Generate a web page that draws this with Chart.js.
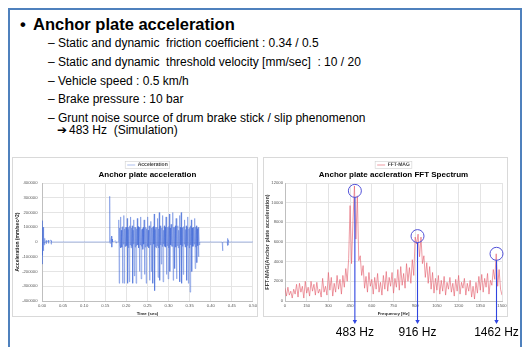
<!DOCTYPE html>
<html lang="en">
<head>
<meta charset="utf-8">
<title>Anchor plate acceleration</title>
<script src="https://cdn.jsdelivr.net/npm/chart.js@4.4.1/dist/chart.umd.min.js"></script>
<style>
    html, body { margin: 0; padding: 0; background: #fff; }
    body { position: relative; width: 526px; height: 347px; overflow: hidden;
           font-family: Arial, "Liberation Sans", sans-serif; color: #000; }
    .frame { position: absolute; left: 8px; top: 8px; width: 514px; height: 360px;
             border: 2px solid #4f81bd; border-bottom: none; box-sizing: border-box; }
    .bullet, .head { position: absolute; top: 14px; line-height: 20px; font-size: 16.5px;
                     font-weight: bold; white-space: nowrap; }
    .bullet { left: 20px; }
    .head { left: 33px; }
    .dash, .item { position: absolute; line-height: 16px; font-size: 12px; white-space: nowrap; }
    .dash { left: 48px; }
    .item { left: 58px; }
    .arrow { position: absolute; left: 57px; line-height: 16px; font-size: 12px;
             font-family: "DejaVu Sans", sans-serif; }
    .panel { position: absolute; border: 1px solid #d9d9d9; box-sizing: border-box; }
    canvas { position: absolute; }
</style>
</head>
<body>
<div class="frame"></div>

<div class="bullet">•</div>
<div class="head">Anchor plate acceleration</div>
<div class="dash" style="top:35px">–</div>
<div class="item" style="top:35px">Static and dynamic&nbsp; friction coefficient : 0.34 / 0.5</div>
<div class="dash" style="top:54px">–</div>
<div class="item" style="top:54px">Static and dynamic&nbsp; threshold velocity [mm/sec]&nbsp; : 10 / 20</div>
<div class="dash" style="top:72.5px">–</div>
<div class="item" style="top:72.5px">Vehicle speed : 0.5 km/h</div>
<div class="dash" style="top:91px">–</div>
<div class="item" style="top:91px">Brake pressure : 10 bar</div>
<div class="dash" style="top:109.5px">–</div>
<div class="item" style="top:109.5px">Grunt noise source of drum brake stick / slip phenomenon</div>
<div class="arrow" style="top:122px">➔</div>
<div class="item" style="top:122px;left:69px">483 Hz&nbsp; (Simulation)</div>

<div class="panel" style="left:12px;top:157px;width:246px;height:160px"></div>
<canvas id="accelChart" width="246" height="158" style="left:13px;top:158px"></canvas>
<div class="panel" style="left:263px;top:157px;width:245px;height:160px"></div>
<canvas id="fftChart" width="256" height="189" style="left:264px;top:158px"></canvas>

<script>
// Anchor plate acceleration: time history + FFT spectrum

// time history, sec
const accelTime = [
    0.000, 0.0005, 0.0010, 0.0015, 0.0020, 0.0025, 0.0030, 0.0035, 0.0040, 0.0045,
    0.0050, 0.0060, 0.0070, 0.0080, 0.0100, 0.0105, 0.0110, 0.0120, 0.0150, 0.0155,
    0.0160, 0.0210, 0.0215, 0.0220, 0.0230, 0.1600, 0.1605, 0.1612, 0.1620, 0.1650,
    0.1655, 0.1660, 0.1670, 0.1750, 0.1755, 0.1760, 0.1810,
    0.182, 0.183, 0.184, 0.185, 0.186, 0.187, 0.188, 0.189, 0.190, 0.191,
    0.192, 0.193, 0.194, 0.195, 0.196, 0.197, 0.198, 0.199, 0.200, 0.201,
    0.202, 0.203, 0.204, 0.205, 0.206, 0.207, 0.208, 0.209, 0.210, 0.211,
    0.212, 0.213, 0.214, 0.215, 0.216, 0.217, 0.218, 0.219, 0.220, 0.221,
    0.222, 0.223, 0.224, 0.225, 0.226, 0.227, 0.228, 0.229, 0.230, 0.231,
    0.232, 0.233, 0.234, 0.235, 0.236, 0.237, 0.238, 0.239, 0.240, 0.241,
    0.242, 0.243, 0.244, 0.245, 0.246, 0.247, 0.248, 0.249, 0.250, 0.251,
    0.252, 0.253, 0.254, 0.255, 0.256, 0.257, 0.258, 0.259, 0.260, 0.261,
    0.262, 0.263, 0.264, 0.265, 0.266, 0.267, 0.268, 0.269, 0.270, 0.271,
    0.272, 0.273, 0.274, 0.275, 0.276, 0.277, 0.278, 0.279, 0.280, 0.281,
    0.282, 0.283, 0.284, 0.285, 0.286, 0.287, 0.288, 0.289, 0.290, 0.291,
    0.292, 0.293, 0.294, 0.295, 0.296, 0.297, 0.298, 0.299, 0.300, 0.301,
    0.302, 0.303, 0.304, 0.305, 0.306, 0.307, 0.308, 0.309, 0.310, 0.311,
    0.312, 0.313, 0.314, 0.315, 0.316, 0.317, 0.318, 0.319, 0.320, 0.321,
    0.322, 0.323, 0.324, 0.325, 0.326, 0.327, 0.328, 0.329, 0.330, 0.331,
    0.332, 0.333, 0.334, 0.335, 0.336, 0.337, 0.338, 0.339, 0.340, 0.341,
    0.342, 0.343, 0.344, 0.345, 0.346, 0.347, 0.348, 0.349, 0.350, 0.351,
    0.352, 0.353, 0.354, 0.355, 0.356, 0.357, 0.358, 0.359, 0.360, 0.361,
    0.362, 0.363, 0.364, 0.365, 0.366, 0.367, 0.368, 0.369, 0.370, 0.371,
    0.372, 0.373,
    0.3740, 0.4270, 0.4280, 0.4290, 0.4390, 0.4395, 0.4400, 0.4405, 0.4410, 0.4415,
    0.4420, 0.5000
];

// acceleration, mm/sec^2
const accelValue = [
    0, 120000, -150000, 145000, -90000, 100000, -60000, 70000, -40000, 40000,
    -20000, 25000, -10000, 0, 10000, -12000, 8000, 0, 12000, -10000,
    0, 14000, -15000, 10000, 0, 0, 310000, -10000, 0, 40000,
    -35000, 20000, 0, 8000, -8000, 0, 0,
    150000, -280000, 95000, -20000, 170000, -40000, 80000, -35000,
    100000, -280000, 105000, -15000, 180000, -280000, 90000, -30000,
    100000, -30000, 100000, -25000, 160000, -280000, 85000, -40000,
    100000, -270000, 110000, -20000, 170000, -40000, 95000, -30000,
    110000, -280000, 80000, -15000, 150000, -230000, 100000, -35000,
    100000, -280000, 90000, -25000, 160000, -20000, 105000, -40000,
    100000, -200000, 95000, -20000, 170000, -250000, 85000, -30000,
    90000, -50000, 100000, -15000, 150000, -220000, 110000, -35000,
    100000, -280000, 90000, -25000, 170000, -30000, 80000, -40000,
    110000, -260000, 100000, -20000, 140000, -200000, 95000, -30000,
    100000, -280000, 105000, -15000, 190000, -330000, 85000, -35000,
    100000, -40000, 100000, -25000, 160000, -240000, 90000, -40000,
    200000, -260000, 110000, -20000, 100000, -150000, 95000, -30000,
    180000, -270000, 80000, -15000, 110000, -30000, 100000, -35000,
    170000, -220000, 90000, -25000, 100000, -250000, 105000, -40000,
    190000, -200000, 95000, -20000, 120000, -30000, 85000, -30000,
    200000, -260000, 100000, -15000, 100000, -180000, 110000, -35000,
    160000, -250000, 90000, -25000, 110000, -40000, 80000, -40000,
    180000, -270000, 100000, -20000, 200000, -280000, 95000, -30000,
    100000, -220000, 105000, -15000, 150000, -30000, 85000, -35000,
    110000, -260000, 100000, -25000, 170000, -280000, 90000, -40000,
    100000, -340000, 110000, -20000, 150000, -200000, 95000, -30000,
    100000, -30000, 80000, -15000, 160000, -180000, 100000, -35000,
    110000, -140000, 90000, -25000, 100000, -100000, 70000, -20000,
    0, 0, -60000, 0, 0, 20000, -25000, 25000, -20000, 15000,
    0, 0
];

// spectrum, Hz
const fftFreq = [
    0, 10, 20, 30, 40, 50, 60, 70, 80, 90,
    100, 110, 120, 130, 140, 150, 160, 170, 180, 190,
    200, 210, 220, 230, 240, 250, 260, 270, 280, 290,
    300, 310, 320, 330, 340, 350, 360, 370, 380, 390,
    400, 410, 420, 430, 440, 450, 460, 470, 480, 490,
    500, 510, 520, 530, 540, 550, 560, 570, 580, 590,
    600, 610, 620, 630, 640, 650, 660, 670, 680, 690,
    700, 710, 720, 730, 740, 750, 760, 770, 780, 790,
    800, 810, 820, 830, 840, 850, 860, 870, 880, 890,
    900, 910, 920, 930, 940, 950, 960, 970, 980, 990,
    1000, 1010, 1020, 1030, 1040, 1050, 1060, 1070, 1080, 1090,
    1100, 1110, 1120, 1130, 1140, 1150, 1160, 1170, 1180, 1190,
    1200, 1210, 1220, 1230, 1240, 1250, 1260, 1270, 1280, 1290,
    1300, 1310, 1320, 1330, 1340, 1350, 1360, 1370, 1380, 1390,
    1400, 1410, 1420, 1430, 1440, 1450, 1460, 1470, 1480, 1490,
    1500
];

// FFT magnitude of anchor plate acceleration
const fftMag = [
    1300, 500, 1400, 600, 1000, 300, 1200, 700, 1700, 400,
    1800, 900, 1500, 300, 2000, 800, 1400, 500, 2000, 1000,
    1700, 600, 1900, 800, 1200, 400, 2300, 900, 1500, 600,
    2900, 1100, 2400, 500, 1800, 900, 2600, 1200, 2200, 700,
    2600, 1400, 3300, 2000, 4300, 9700, 3800, 8200, 11700, 6300,
    10700, 4100, 4600, 2600, 3600, 1300, 2500, 900, 2900, 1500,
    2200, 700, 2400, 1200, 2800, 900, 1900, 600, 2600, 1200,
    3000, 1000, 2400, 1500, 2900, 800, 2300, 1400, 3200, 1100,
    3500, 1600, 2800, 1300, 3800, 2000, 3400, 1800, 4200, 2600,
    6500, 5800, 6800, 4500, 6500, 3800, 4600, 2400, 3900, 1800,
    3500, 1200, 2900, 800, 2300, 1100, 2600, 700, 2100, 1000,
    2500, 600, 1900, 1200, 2400, 900, 1800, 500, 2200, 1000,
    2600, 700, 1900, 1300, 2300, 600, 1800, 1000, 2100, 400,
    1500, 200, 1900, 800, 2500, 1100, 2700, 900, 2300, 1400,
    2800, 700, 2100, 1600, 3200, 2200, 4800, 1500, 3200, 1200,
    600
];

// circled peaks
const peakFreq = [483, 916, 1462];
const peakMag = [11200, 6600, 4800];
const peakLabels = ['483 Hz', '916 Hz', '1462 Hz'];

Chart.defaults.font.family = 'Arial, "Liberation Sans", sans-serif';

const TICK_COLOR = '#595959';
const GRID_COLOR = '#e4e4e4';

// legend and title sit over the plot area (not the whole canvas), like the spreadsheet chart
const headerPos = {
    id: 'headerPos',
    afterLayout(chart, args, opts) {
        const area = chart.chartArea;
        [[chart.legend, opts.legendTop], [chart.titleBlock, opts.titleTop]].forEach(([box, top]) => {
            if (!box) return;
            box.left = area.left;
            box.right = area.right;
            box.width = area.right - area.left;
            box.top = top;
            box.bottom = top + box.height;
        });
    },
    afterDraw(chart, args, opts) {
        // thin frame round the legend entry
        const ctx = chart.ctx;
        const area = chart.chartArea;
        ctx.save();
        ctx.font = `bold ${opts.fontSize}px ${Chart.defaults.font.family}`;
        const w = opts.lineWidth + opts.fontSize / 2 + ctx.measureText(chart.data.datasets[0].label).width;
        const x0 = (area.left + area.right - w) / 2;
        const cy = chart.legend.top + opts.fontSize / 2;
        ctx.strokeStyle = '#d0d0d0';
        ctx.lineWidth = 0.6;
        ctx.strokeRect(x0 - 2, cy - 3.5, w + 4, 7);
        ctx.restore();
    }
};

// circles, arrows and labels on the FFT peaks
const peakMarks = {
    id: 'peakMarks',
    afterDraw(chart) {
        const { ctx, scales: { x, y } } = chart;
        const r = 6.5;
        ctx.save();
        peakFreq.forEach((f, i) => {
            const px = x.getPixelForValue(f);
            const py = y.getPixelForValue(peakMag[i]);
            const tip = x.bottom + 8;

            ctx.strokeStyle = '#5252d8';
            ctx.lineWidth = 1;
            ctx.beginPath();
            ctx.arc(px, py, r, 0, Math.PI * 2);
            ctx.stroke();

            ctx.strokeStyle = '#2f45e0';
            ctx.lineWidth = 1.1;
            ctx.beginPath();
            ctx.moveTo(px, py + r);
            ctx.lineTo(px, tip - 3);
            ctx.stroke();

            ctx.fillStyle = '#2f45e0';
            ctx.beginPath();
            ctx.moveTo(px - 2.2, tip - 4);
            ctx.lineTo(px + 2.2, tip - 4);
            ctx.lineTo(px, tip);
            ctx.closePath();
            ctx.fill();

            ctx.fillStyle = '#000';
            ctx.font = `12px ${Chart.defaults.font.family}`;
            ctx.textAlign = 'center';
            ctx.textBaseline = 'middle';
            ctx.fillText(peakLabels[i], px, x.bottom + 17);
        });
        ctx.restore();
    }
};

function axisStyle(extra) {
    return Object.assign({
        grid: { color: GRID_COLOR, drawTicks: false },
        border: { color: '#bfbfbf' }
    }, extra);
}

function legendStyle() {
    return {
        display: true,
        position: 'top',
        weight: 1000,
        labels: {
            usePointStyle: true,
            pointStyle: 'line',
            pointStyleWidth: 8,
            padding: 0,
            color: '#404040',
            font: { size: 5, weight: 'bold' }
        }
    };
}

function renderAccelChart() {
    const points = accelTime.map((t, i) => ({ x: t, y: accelValue[i] }));

    new Chart(document.getElementById('accelChart'), {
        type: 'line',
        data: {
            datasets: [{
                label: 'Acceleration',
                data: points,
                borderColor: 'rgba(60, 100, 215, 0.7)',
                backgroundColor: 'rgba(60, 100, 215, 0.7)',
                borderWidth: 0.6,
                pointRadius: 0,
                tension: 0
            }]
        },
        options: {
            responsive: false,
            animation: false,
            events: [],
            layout: { padding: { top: 0.4, right: 5, bottom: 0, left: 0 } },
            plugins: {
                legend: legendStyle(),
                title: {
                    display: true,
                    text: 'Anchor plate acceleration',
                    color: '#000',
                    weight: 500,
                    padding: 0,
                    font: { size: 8, weight: 'bold' }
                },
                tooltip: { enabled: false },
                headerPos: { legendTop: 4.5, titleTop: 12.2, fontSize: 5, lineWidth: 8 }
            },
            scales: {
                x: axisStyle({
                    type: 'linear',
                    min: 0,
                    max: 0.5,
                    ticks: {
                        stepSize: 0.05,
                        autoSkip: false,
                        maxRotation: 0,
                        padding: 2,
                        color: TICK_COLOR,
                        font: { size: 4.2 },
                        callback: v => v.toFixed(2)
                    },
                    title: {
                        display: true,
                        text: 'Time (sec)',
                        color: '#262626',
                        padding: 0,
                        font: { size: 4.4, weight: 'bold' }
                    },
                    afterFit: s => { s.height = 15; }
                }),
                y: axisStyle({
                    min: -400000,
                    max: 400000,
                    ticks: {
                        stepSize: 100000,
                        autoSkip: false,
                        padding: 4.5,
                        color: TICK_COLOR,
                        font: { size: 4.2 },
                        callback: v => String(v)
                    },
                    title: {
                        display: true,
                        text: 'Acceleration (mm/sec^2)',
                        color: '#262626',
                        padding: { top: 1.8, bottom: 0 },
                        font: { size: 5, weight: 'bold' }
                    },
                    afterFit: s => { s.width = 29; }
                })
            }
        },
        plugins: [headerPos]
    });
}

function renderFftChart() {
    const points = fftFreq.map((f, i) => ({ x: f, y: fftMag[i] }));

    new Chart(document.getElementById('fftChart'), {
        type: 'line',
        data: {
            datasets: [{
                label: 'FFT-MAG',
                data: points,
                borderColor: 'rgba(228, 96, 110, 0.9)',
                backgroundColor: 'rgba(228, 96, 110, 0.9)',
                borderWidth: 0.7,
                pointRadius: 0,
                tension: 0
            }]
        },
        options: {
            responsive: false,
            animation: false,
            events: [],
            layout: { padding: { top: 0.4, right: 18, bottom: 31, left: 0 } },
            plugins: {
                legend: legendStyle(),
                title: {
                    display: true,
                    text: 'Anchor plate accleration FFT Spectrum',
                    color: '#000',
                    weight: 500,
                    padding: 0,
                    font: { size: 8, weight: 'bold' }
                },
                tooltip: { enabled: false },
                headerPos: { legendTop: 4.5, titleTop: 12.2, fontSize: 5, lineWidth: 8 }
            },
            scales: {
                x: axisStyle({
                    type: 'linear',
                    min: 0,
                    max: 1500,
                    ticks: {
                        stepSize: 150,
                        autoSkip: false,
                        maxRotation: 0,
                        padding: 2,
                        color: TICK_COLOR,
                        font: { size: 4.2 },
                        callback: v => String(v)
                    },
                    title: {
                        display: true,
                        text: 'Frequency [Hz]',
                        color: '#262626',
                        padding: 0,
                        font: { size: 4.4, weight: 'bold' }
                    },
                    afterFit: s => { s.height = 15; }
                }),
                y: axisStyle({
                    min: 0,
                    max: 12000,
                    ticks: {
                        stepSize: 2000,
                        autoSkip: false,
                        padding: 2,
                        color: TICK_COLOR,
                        font: { size: 4.2 },
                        callback: v => String(v)
                    },
                    title: {
                        display: true,
                        text: 'FFT-MAG(Anchor plate acceleration)',
                        color: '#404040',
                        padding: 0,
                        font: { size: 5.5, weight: 'bold' }
                    },
                    afterFit: s => { s.width = 21; }
                })
            }
        },
        plugins: [headerPos, peakMarks]
    });
}

renderAccelChart();
renderFftChart();
</script>
</body>
</html>
